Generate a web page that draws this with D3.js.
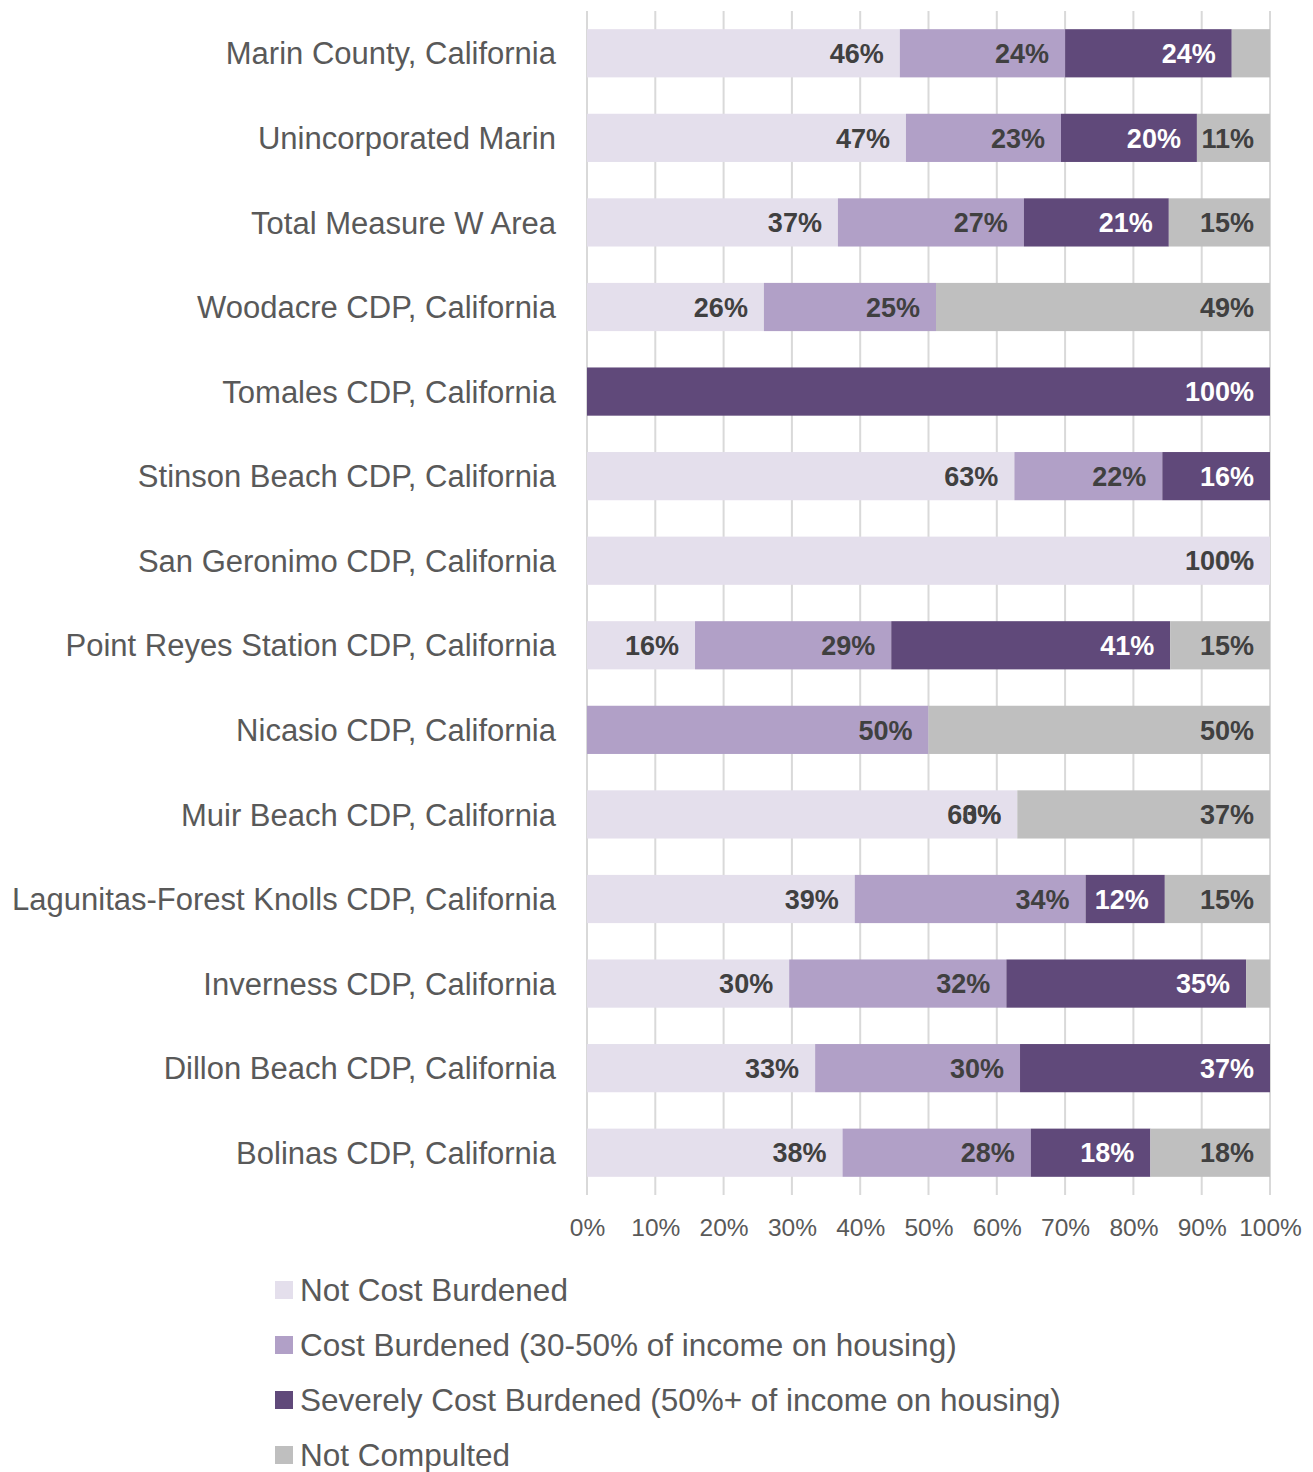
<!DOCTYPE html>
<html>
<head>
<meta charset="utf-8">
<script src="https://cdn.jsdelivr.net/npm/d3@7"></script>
<style>
  html, body { margin: 0; padding: 0; background: #fff; }
  svg { display: block; font-family: "Liberation Sans", Arial, sans-serif; }
</style>
</head>
<body>
<div id="chart"></div>
<script>
/* housing cost burden — 100% stacked horizontal bars */
const categories = [
  'Marin County, California',
  'Unincorporated Marin',
  'Total Measure W Area',
  'Woodacre CDP, California',
  'Tomales CDP, California',
  'Stinson Beach CDP, California',
  'San Geronimo CDP, California',
  'Point Reyes Station CDP, California',
  'Nicasio CDP, California',
  'Muir Beach CDP, California',
  'Lagunitas-Forest Knolls CDP, California',
  'Inverness CDP, California',
  'Dillon Beach CDP, California',
  'Bolinas CDP, California'
];
const seriesNames = [
  'Not Cost Burdened',
  'Cost Burdened (30-50% of income on housing)',
  'Severely Cost Burdened (50%+ of income on housing)',
  'Not Compulted'
];
// null = no data (no bar, no label); 0 = zero share (label still drawn)
const notBurdened  = [0.458, 0.467, 0.367, 0.259, null, 0.627, 1.00, 0.158, null, 0.63, 0.392, 0.296, 0.334, 0.376];
const costBurdened = [0.242, 0.227, 0.272, 0.252, null, 0.217, 0,    0.287, 0.50, 0,    0.338, 0.318, 0.30,  0.277];
const severe       = [0.244, 0.199, 0.212, null,  1.00, 0.158, 0,    0.408, null, null, 0.116, 0.351, 0.366, 0.176];
const notComputed  = [0.056, 0.107, 0.148, 0.489, null, null,  0,    0.146, 0.50, 0.37, 0.154, 0.035, null, 0.176];
const xTicks = [0, 0.1, 0.2, 0.3, 0.4, 0.5, 0.6, 0.7, 0.8, 0.9, 1.0];

const colors = ['#E4DFEC', '#B1A0C7', '#60497A', '#BFBFBF'];
const labelColors = ['#404040', '#404040', '#ffffff', '#404040'];

const W = 1313, H = 1472;
const m = { left: 587, right: 43, top: 11, bottom: 277 };

const svg = d3.select('#chart').append('svg').attr('width', W).attr('height', H);

const x = d3.scaleLinear().domain([0, 1]).range([m.left, W - m.right]);
const y = d3.scaleBand().domain(categories).range([m.top, H - m.bottom]).paddingInner(0.43).paddingOuter(0.215);

/* build stacked rows (normalised like a 100% stacked chart) */
const cols = [notBurdened, costBurdened, severe, notComputed];
const rows = categories.map((c, i) => {
  const vals = cols.map(a => a[i]);
  const tot = d3.sum(vals, v => v || 0);
  let acc = 0;
  return vals.map((v, k) => {
    const share = v == null ? null : v / tot;
    const seg = { cat: c, k, v, x0: acc, x1: acc + (share || 0) };
    acc = seg.x1;
    return seg;
  });
});

/* gridlines */
svg.append('g').selectAll('line').data(xTicks).join('line')
  .attr('x1', d => x(d)).attr('x2', d => x(d))
  .attr('y1', m.top).attr('y2', H - m.bottom)
  .attr('stroke', '#D9D9D9').attr('stroke-width', 2);

/* bars */
const segs = rows.flat().filter(s => s.v != null && s.v > 0);
svg.append('g').selectAll('rect').data(segs).join('rect')
  .attr('x', d => x(d.x0)).attr('width', d => x(d.x1) - x(d.x0))
  .attr('y', d => y(d.cat)).attr('height', y.bandwidth())
  .attr('fill', d => colors[d.k]);

/* data labels, inside end */
const fmt = d3.format('.0%');
const labels = rows.flat().filter(s => s.v != null && !(s.v > 0 && s.v < 0.06));
svg.append('g').selectAll('text').data(labels).join('text')
  .attr('x', d => x(d.x1) - 16)
  .attr('y', d => y(d.cat) + y.bandwidth() / 2)
  .attr('dy', '0.36em')
  .attr('text-anchor', 'end')
  .style('font-size', '27px').style('font-weight', 'bold')
  .style('fill', d => labelColors[d.k])
  .text(d => fmt(d.v));

/* category labels */
svg.append('g').selectAll('text').data(categories).join('text')
  .attr('x', 556)
  .attr('y', d => y(d) + y.bandwidth() / 2)
  .attr('dy', '0.36em')
  .attr('text-anchor', 'end')
  .style('font-size', '31px').style('fill', '#595959')
  .text(d => d);

/* x axis */
const xAxis = svg.append('g').attr('transform', `translate(0,${H - m.bottom})`)
  .call(d3.axisBottom(x).tickValues(xTicks).tickFormat(d3.format('.0%')).tickSize(0).tickPadding(24));
xAxis.select('.domain').remove();
xAxis.selectAll('text').style('font-size', '24.5px').style('fill', '#595959')
  .style('font-family', '"Liberation Sans", Arial, sans-serif');

/* legend */
const leg = svg.append('g').selectAll('g').data(seriesNames).join('g')
  .attr('transform', (d, i) => `translate(275,${1290 + i * 55})`);
leg.append('rect').attr('x', 0).attr('y', -9).attr('width', 18).attr('height', 18)
  .attr('fill', (d, i) => colors[i]);
leg.append('text').attr('x', 25).attr('dy', '0.36em')
  .style('font-size', '31.5px').style('fill', '#595959')
  .text(d => d);
</script>
</body>
</html>
